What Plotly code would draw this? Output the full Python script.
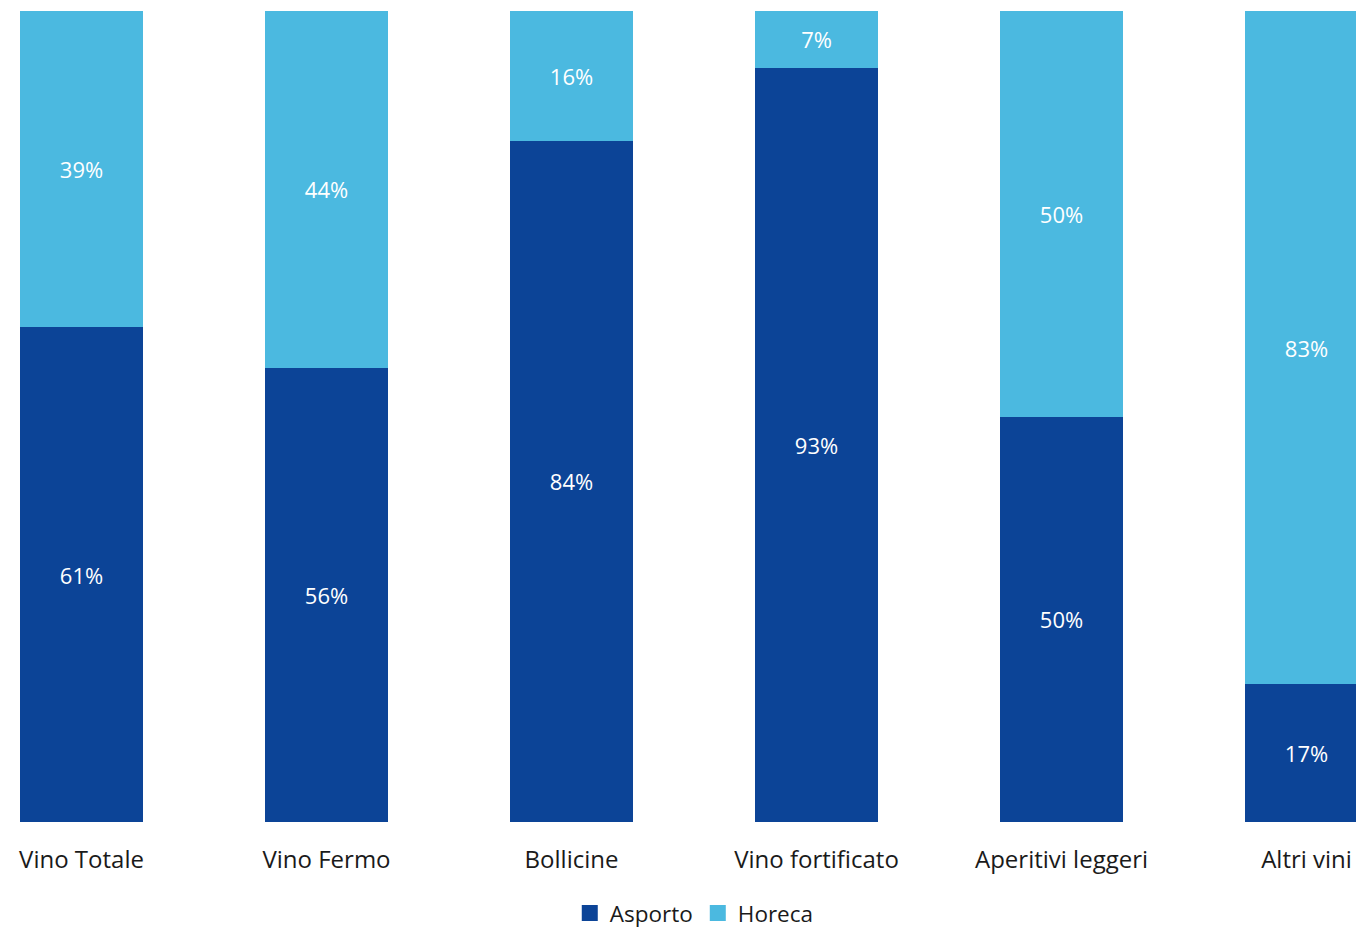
import plotly.graph_objects as go

categories = ["Vino Totale", "Vino Fermo", "Bollicine", "Vino fortificato", "Aperitivi leggeri", "Altri vini"]
asporto = [61, 56, 84, 93, 50, 17]
horeca = [39, 44, 16, 7, 50, 83]

DARK = "#0C4497"
LIGHT = "#4BB9E0"
FONT = "Open Sans"
TEXT = "#1a1a1a"

fig = go.Figure()
for name, vals, color in [("Asporto", asporto, DARK), ("Horeca", horeca, LIGHT)]:
    fig.add_trace(go.Bar(
        x=categories, y=vals, name=name, showlegend=False,
        marker=dict(color=color, line=dict(width=0)),
        text=[f"{v}%" for v in vals],
        textposition="inside", insidetextanchor="middle",
        textfont=dict(family=FONT, size=22, color="white"),
        textangle=0,
    ))

# legend entries with larger square swatches
for name, color in [("Asporto", DARK), ("Horeca", LIGHT)]:
    fig.add_trace(go.Scatter(
        x=[None], y=[None], mode="markers", name=name,
        marker=dict(symbol="square", size=17, color=color),
    ))

fig.update_layout(
    barmode="stack",
    bargap=0.498,
    width=1356, height=931,
    margin=dict(l=0, r=0, t=11, b=109),
    plot_bgcolor="white", paper_bgcolor="white",
    font=dict(family=FONT, size=22, color=TEXT),
    showlegend=True,
    legend=dict(
        orientation="h", x=0.512, xanchor="center",
        yref="container", y=0.019, yanchor="middle",
        font=dict(family=FONT, size=22.5, color=TEXT),
        itemwidth=30, tracegroupgap=0, traceorder="normal",
    ),
    xaxis=dict(
        range=[-0.3327, 5.202], showgrid=False, zeroline=False, showline=False,
        ticks="", tickfont=dict(family=FONT, size=24, color=TEXT),
        ticklabelstandoff=21, automargin=False,
    ),
    yaxis=dict(range=[0, 100], visible=False, automargin=False),
)

fig.write_html("out.html")
